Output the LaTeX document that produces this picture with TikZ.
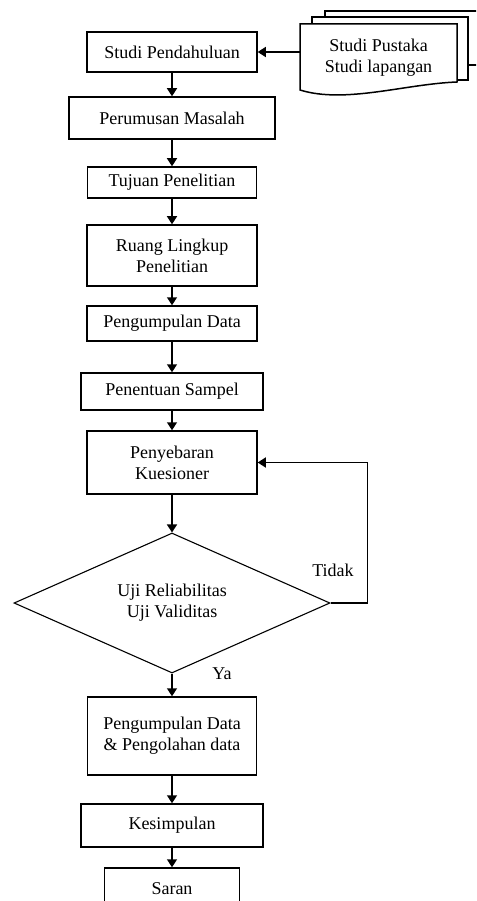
\documentclass[tikz,border=0pt]{standalone}
\usepackage{fontspec}
\setmainfont{Liberation Serif}
\usepackage{tikz}
\usetikzlibrary{shapes.geometric,arrows.meta}

\begin{document}
\begin{tikzpicture}[x=1pt, y=-1pt,
  box/.style={draw, line width=1.5pt, align=center, inner sep=0pt, anchor=center},
  keputusan/.style={diamond, draw, line width=1.1pt, align=center, inner sep=0pt, aspect=2.26},
  panah/.style={line width=1.5pt, -{Triangle[width=10pt,length=8pt]}},
  dokumen/.style={draw, line width=1.5pt, fill=white},
  every node/.style={font=\fontsize{18}{21}\selectfont}]
  \useasboundingbox (0,0) rectangle (476,901);
  \clip (0,0) rectangle (476,901);

  % dokumen masukan
  \draw[dokumen] (325,17) -- (325,11) -- (490,11) -- (490,65) -- (468,65);
  \draw[dokumen] (312,24) -- (312,17) -- (468,17) -- (468,80) -- (457,80);
  \draw[dokumen] (300,24) -- (457,24) -- (457,82) .. controls (405,84) and (345,104) .. (300,90) -- cycle;
  \node[align=center, minimum width=157pt, inner sep=0pt] (pustaka) at (378.5,58) {Studi Pustaka\\Studi lapangan};

  % alur utama
  \node[box, minimum width=170pt, minimum height=40pt] (pendahuluan) at (172,52) {Studi Pendahuluan};
  \node[box, minimum width=206pt, minimum height=42pt] (rumusan) at (172,118) {Perumusan Masalah};
  \node[box, minimum width=169pt, minimum height=31pt] (tujuan) at (172,182.5) {Tujuan Penelitian};
  \node[box, minimum width=170pt, minimum height=61pt] (lingkup) at (172,255.5) {Ruang Lingkup\\Penelitian};
  \node[box, minimum width=170pt, minimum height=35pt] (kumpul) at (172,323.5) {Pengumpulan Data};
  \node[box, minimum width=182pt, minimum height=37pt] (sampel) at (172,391.5) {Penentuan Sampel};
  \node[box, minimum width=170pt, minimum height=63pt] (sebar) at (172,462.5) {Penyebaran\\Kuesioner};
  \node[keputusan, minimum width=316pt, minimum height=140pt] (uji) at (172,603) {Uji Reliabilitas\\Uji Validitas};
  \node[box, minimum width=169pt, minimum height=78pt] (olah) at (172,736) {Pengumpulan Data\\\& Pengolahan data};
  \node[box, minimum width=182pt, minimum height=43pt] (simpul) at (172,825.5) {Kesimpulan};
  \node[box, minimum width=135pt, minimum height=42pt] (saran) at (172,889) {Saran};

  \node (tidak) at (333,570) {Tidak};
  \node (ya) at (222,674) {Ya};

  % panah
  \draw[panah] (pustaka.west |- pendahuluan.east) -- (pendahuluan.east);
  \draw[panah] (pendahuluan) -- (rumusan);
  \draw[panah] (rumusan) -- (tujuan);
  \draw[panah] (tujuan) -- (lingkup);
  \draw[panah] (lingkup) -- (kumpul);
  \draw[panah] (kumpul) -- (sampel);
  \draw[panah] (sampel) -- (sebar);
  \draw[panah] (sebar) -- (uji);
  \draw[panah] (uji.east) -- ++(37,0) |- (sebar.east);
  \draw[panah] (uji) -- (olah);
  \draw[panah] (olah) -- (simpul);
  \draw[panah] (simpul) -- (saran);
\end{tikzpicture}
\end{document}
